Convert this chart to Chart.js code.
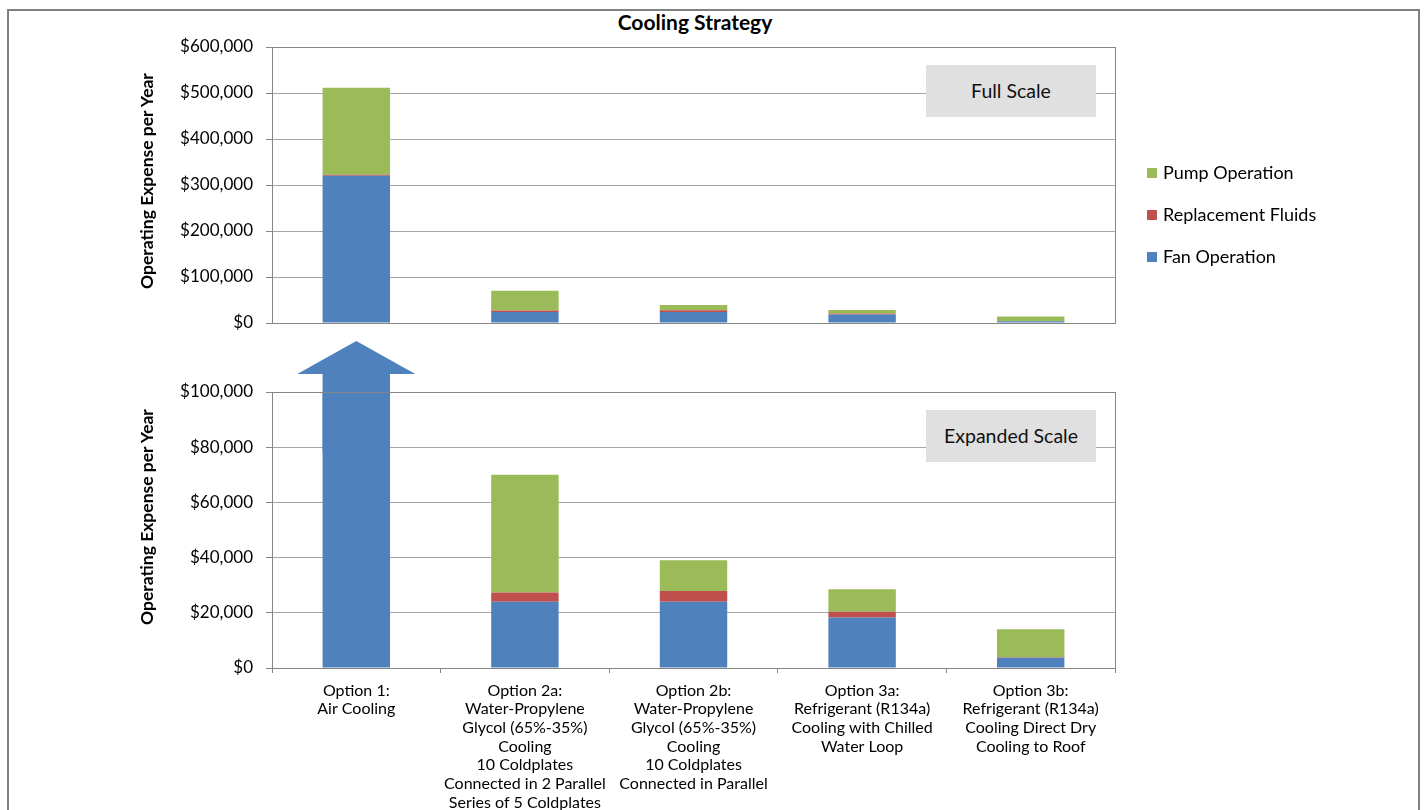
<!DOCTYPE html>
<html>
<head>
<meta charset="utf-8">
<title>Cooling Strategy</title>
<script src="https://cdn.jsdelivr.net/npm/chart.js@4.4.1/dist/chart.umd.min.js"></script>
<style>
  html, body { margin: 0; padding: 0; background: #fff; }
  body { width: 1428px; height: 810px; position: relative; overflow: hidden; font-family: Lato, "Open Sans", sans-serif; color: #000; }
  .frame { position: absolute; left: 7px; top: 9px; width: 1413px; height: 900px; border: 2px solid #808080; border-bottom: none; box-sizing: border-box; }
  .title { position: absolute; left: 545px; width: 300px; top: 9px; text-align: center; font-weight: bold; font-size: 21px; }
  canvas { position: absolute; left: 0; }
  #topChart { top: 0; }
  #bottomChart { top: 330px; }
  .ytitle { position: absolute; width: 300px; text-align: center; font-weight: bold; font-size: 17.5px; transform: rotate(-90deg); transform-origin: center center; line-height: 20px; }
  .scaleBox { position: absolute; left: 926px; width: 170px; height: 52px; background: #e0e0e0; font-size: 19.5px; line-height: 52px; text-align: center; color: #111; }
  .legend { position: absolute; left: 1147px; top: 162px; font-size: 18px; }
  .legend .item { position: absolute; left: 0; height: 20px; line-height: 20px; white-space: nowrap; }
  .legend .swatch { display: inline-block; width: 10px; height: 10px; margin-right: 6px; vertical-align: 1px; }
</style>
</head>
<body>
<div class="frame"></div>
<div class="title">Cooling Strategy</div>
<canvas id="topChart" width="1428" height="360"></canvas>
<canvas id="bottomChart" width="1428" height="480"></canvas>
<div class="ytitle" style="left:-3px; top:171px;">Operating Expense per Year</div>
<div class="ytitle" style="left:-3px; top:507px;">Operating Expense per Year</div>
<div class="scaleBox" style="top:65px;">Full Scale</div>
<div class="scaleBox" style="top:410px;">Expanded Scale</div>
<div class="legend" id="legend"></div>

<script>
// Cooling options (multi-line category labels)
const categories = [
  ["Option 1:", "Air Cooling"],
  ["Option 2a:", "Water-Propylene", "Glycol (65%-35%)", "Cooling", "10 Coldplates", "Connected in 2 Parallel", "Series of 5 Coldplates"],
  ["Option 2b:", "Water-Propylene", "Glycol (65%-35%)", "Cooling", "10 Coldplates", "Connected in Parallel"],
  ["Option 3a:", "Refrigerant (R134a)", "Cooling with Chilled", "Water Loop"],
  ["Option 3b:", "Refrigerant (R134a)", "Cooling Direct Dry", "Cooling to Roof"]
];

// Annual operating expense ($) per cost component
const fanOperation       = [320000, 24000, 24000, 18300, 3700];
const replacementFluids  = [2500,   3400,  3900,  2100,  150];
const pumpOperation      = [189000, 42600, 11100, 8100,  10200];

// Axis ranges
const fullScaleMax = 600000, fullScaleStep = 100000;
const expandedMax = 100000, expandedStep = 20000;

const seriesNames = ["Fan Operation", "Replacement Fluids", "Pump Operation"];
const seriesColors = ["#4F81BD", "#C0504D", "#9BBB59"];
const seriesValues = [fanOperation, replacementFluids, pumpOperation];

const FONT = "Lato, 'Open Sans', sans-serif";
const GRID = "#a6a6a6";
const AXIS = "#868686";

function makeDatasets() {
  return seriesNames.map((name, i) => ({
    label: name,
    data: seriesValues[i],
    backgroundColor: seriesColors[i],
    borderWidth: 0,
    categoryPercentage: 1.0,
    barPercentage: 0.4,
    stack: "cost"
  }));
}

const money = v => "$" + Number(v).toLocaleString("en-US");

// Outline of the plot area
const plotFrame = {
  id: "plotFrame",
  afterDraw(chart) {
    const a = chart.chartArea, ctx = chart.ctx;
    ctx.save();
    ctx.strokeStyle = AXIS;
    ctx.lineWidth = 1;
    ctx.strokeRect(Math.round(a.left) + 0.5, Math.round(a.top) + 0.5, Math.round(a.right - a.left), Math.round(a.bottom - a.top));
    ctx.restore();
  }
};

// Upward arrow over the off-scale bar in the expanded view
const offScaleArrow = {
  id: "offScaleArrow",
  afterDatasetsDraw(chart) {
    const meta = chart.getDatasetMeta(0);
    const bar = meta.data[0];
    if (!bar) return;
    const { x, width } = bar.getProps(["x", "width"], true);
    const top = chart.chartArea.top;
    const tipY = top - 51, baseY = top - 18, shaftEnd = top + 60;
    const headHalf = width * 0.875, shaftHalf = width / 2;
    const ctx = chart.ctx;
    ctx.save();
    ctx.fillStyle = seriesColors[0];
    ctx.beginPath();
    ctx.moveTo(x, tipY);
    ctx.lineTo(x + headHalf, baseY);
    ctx.lineTo(x + shaftHalf, baseY);
    ctx.lineTo(x + shaftHalf, shaftEnd);
    ctx.lineTo(x - shaftHalf, shaftEnd);
    ctx.lineTo(x - shaftHalf, baseY);
    ctx.lineTo(x - headHalf, baseY);
    ctx.closePath();
    ctx.fill();
    ctx.restore();
  }
};

function yAxis(max, step) {
  return {
    stacked: true,
    min: 0,
    max: max,
    afterFit(scale) { scale.width = 272; },
    grid: { color: GRID, lineWidth: 1, drawTicks: true, tickLength: 6, tickColor: AXIS },
    border: { display: true, color: AXIS },
    ticks: {
      stepSize: step,
      padding: 13,
      color: "#000",
      font: { family: FONT, size: 17 },
      callback: v => money(v)
    }
  };
}

Chart.defaults.animation = false;
Chart.defaults.font.family = FONT;

new Chart(document.getElementById("topChart"), {
  type: "bar",
  data: { labels: categories, datasets: makeDatasets() },
  options: {
    responsive: false,
    layout: { padding: { top: 47, right: 313, bottom: 37, left: 0 } },
    plugins: { legend: { display: false }, tooltip: { enabled: false } },
    scales: {
      x: { stacked: true, display: false },
      y: yAxis(fullScaleMax, fullScaleStep)
    }
  },
  plugins: [plotFrame]
});

new Chart(document.getElementById("bottomChart"), {
  type: "bar",
  data: { labels: categories, datasets: makeDatasets() },
  options: {
    responsive: false,
    layout: { padding: { top: 62, right: 313, bottom: 0, left: 0 } },
    plugins: { legend: { display: false }, tooltip: { enabled: false } },
    scales: {
      x: {
        stacked: true,
        afterFit(scale) { scale.height = 142; },
        grid: { drawOnChartArea: false, drawTicks: true, tickLength: 5, color: AXIS },
        border: { display: true, color: AXIS },
        ticks: {
          autoSkip: false,
          maxRotation: 0,
          minRotation: 0,
          padding: 8,
          color: "#000",
          font: { family: FONT, size: 16, lineHeight: 1.17 }
        }
      },
      y: yAxis(expandedMax, expandedStep)
    }
  },
  plugins: [plotFrame, offScaleArrow]
});

// Legend, listed top-down in reverse stacking order
const legendEl = document.getElementById("legend");
[2, 1, 0].forEach((i, row) => {
  const item = document.createElement("div");
  item.className = "item";
  item.style.top = (row * 42) + "px";
  const sw = document.createElement("span");
  sw.className = "swatch";
  sw.style.background = seriesColors[i];
  item.appendChild(sw);
  item.appendChild(document.createTextNode(seriesNames[i]));
  legendEl.appendChild(item);
});
</script>
</body>
</html>
